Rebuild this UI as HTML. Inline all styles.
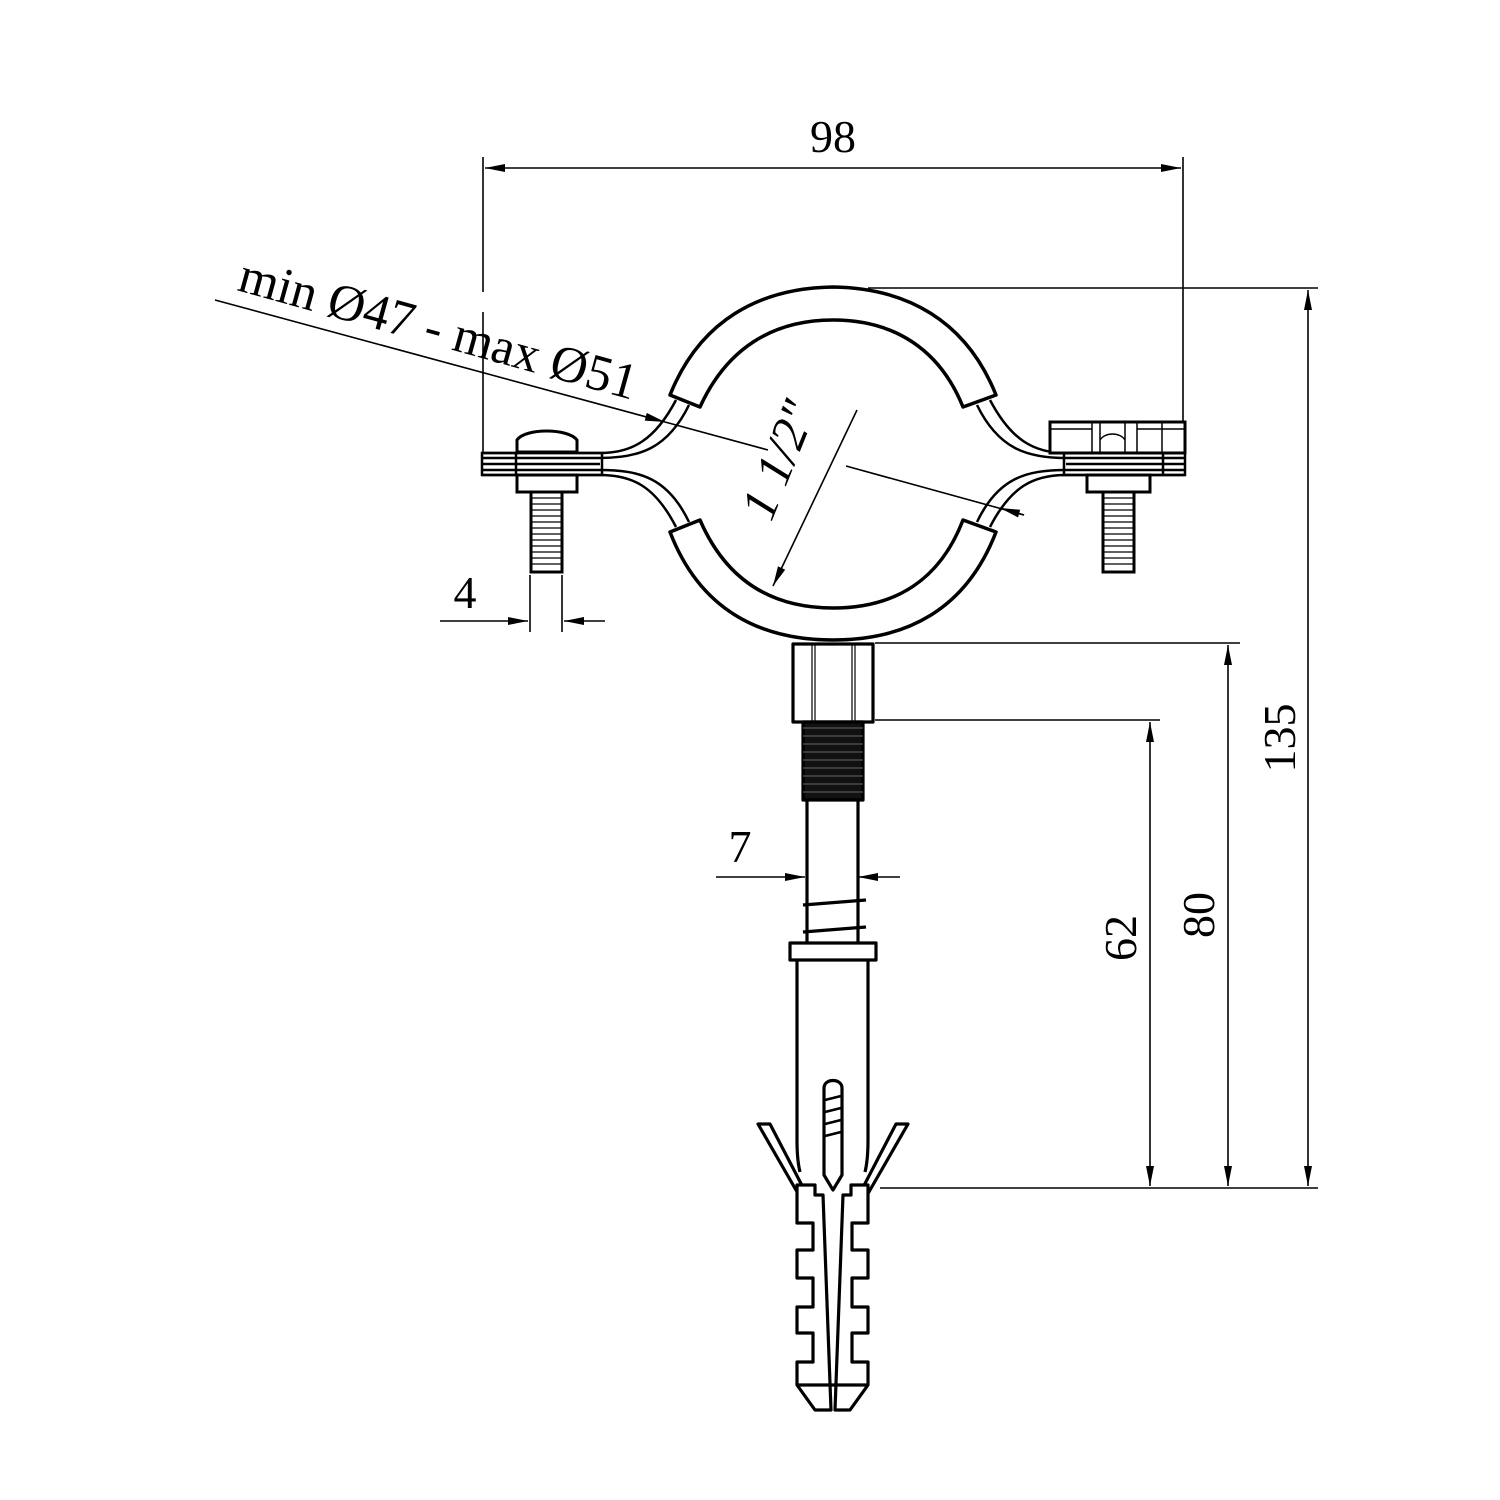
<!DOCTYPE html>
<html><head><meta charset="utf-8"><style>html,body{margin:0;padding:0;background:#fff}svg{display:block}</style></head><body>
<svg width="1500" height="1500" viewBox="0 0 1500 1500" xmlns="http://www.w3.org/2000/svg">
<defs>
<marker id="a" viewBox="0 0 20 8" refX="20" refY="4" markerWidth="20" markerHeight="8" markerUnits="userSpaceOnUse" orient="auto-start-reverse"><path d="M0,0 L20,4 L0,8 Z" fill="#000"/></marker>
</defs>
<g fill="none" stroke="#000" stroke-width="1.6">
<line x1="483" y1="157" x2="483" y2="292"/><line x1="483" y1="312" x2="483" y2="452"/>
<line x1="1183" y1="157" x2="1183" y2="423"/>
<line x1="485" y1="168" x2="1181" y2="168" marker-start="url(#a)" marker-end="url(#a)"/>
<line x1="868" y1="288" x2="1318" y2="288"/>
<line x1="880" y1="1188" x2="1318" y2="1188"/>
<line x1="1308" y1="290" x2="1308" y2="1186" marker-start="url(#a)" marker-end="url(#a)"/>
<line x1="875" y1="643" x2="1240" y2="643"/>
<line x1="1228" y1="645" x2="1228" y2="1186" marker-start="url(#a)" marker-end="url(#a)"/>
<line x1="875" y1="720" x2="1160" y2="720"/>
<line x1="1150" y1="722" x2="1150" y2="1186" marker-start="url(#a)" marker-end="url(#a)"/>
<line x1="530" y1="575" x2="530" y2="632"/><line x1="562" y1="575" x2="562" y2="632"/>
<line x1="440" y1="621" x2="528" y2="621" marker-end="url(#a)"/>
<line x1="605" y1="621" x2="564" y2="621" marker-end="url(#a)"/>
<line x1="716" y1="877" x2="805" y2="877" marker-end="url(#a)"/>
<line x1="900" y1="877" x2="858" y2="877" marker-end="url(#a)"/>
<line x1="215" y1="300" x2="665" y2="422" marker-end="url(#a)"/>
<line x1="665" y1="422" x2="768" y2="450"/>
<line x1="846" y1="466" x2="1024" y2="515"/>
<line x1="1024" y1="515" x2="1000" y2="508" marker-end="url(#a)"/>
<line x1="857" y1="410" x2="773" y2="586" marker-end="url(#a)"/>
</g>
<g font-family="Liberation Serif, serif" font-size="46" fill="#000">
<text x="833" y="152" text-anchor="middle">98</text>
<text x="465" y="608" text-anchor="middle">4</text>
<text x="740" y="862" text-anchor="middle">7</text>
<text transform="translate(1295,738) rotate(-90)" text-anchor="middle">135</text>
<text transform="translate(1214,915) rotate(-90)" text-anchor="middle">80</text>
<text transform="translate(1136,938) rotate(-90)" text-anchor="middle">62</text>
<text transform="translate(236,290) rotate(15.5)" font-size="51">min Ø47 - max Ø51</text>
<text transform="translate(794,466) rotate(-68)" text-anchor="middle" font-size="50" font-style="italic">1 1/2"</text>
</g>
<g fill="none" stroke="#000" stroke-width="3.5" stroke-linejoin="round">
<path d="M670,395 C700,320 760,288 833,287 C906,288 966,320 996,395 L963,407 C940,350 895,320 833,320 C771,320 726,350 700,407 Z" fill="#fff"/>
<path d="M670,532 C700,610 760,640 833,640 C906,640 966,610 996,532 L963,520 C940,580 895,608 833,608 C771,608 726,580 700,520 Z" fill="#fff"/>
</g>
<g fill="none" stroke="#000" stroke-width="2.5">
<path d="M676,400 C655,440 632,453 600,453 L482,453"/>
<path d="M689,405 C668,448 640,458 600,458"/>
<path d="M676,527 C655,486 632,475 600,475 L482,475"/>
<path d="M689,522 C668,478 640,470 600,470"/>
<path d="M990,400 C1011,440 1034,453 1066,453 L1185,453"/>
<path d="M977,405 C998,448 1026,458 1066,458"/>
<path d="M990,527 C1011,486 1034,475 1066,475 L1185,475"/>
<path d="M977,522 C998,478 1026,470 1066,470"/>
<rect x="482" y="453" width="120" height="22"/>
<line x1="482" y1="458" x2="600" y2="458"/><line x1="482" y1="464" x2="600" y2="464"/><line x1="482" y1="470" x2="600" y2="470"/>
<line x1="516" y1="453" x2="516" y2="475"/>
<rect x="1064" y="453" width="121" height="22"/>
<line x1="1066" y1="458" x2="1185" y2="458"/><line x1="1066" y1="464" x2="1185" y2="464"/><line x1="1066" y1="470" x2="1185" y2="470"/>
<line x1="1163" y1="453" x2="1163" y2="475"/>
</g>
<g fill="#fff" stroke="#000" stroke-width="3">
<path d="M517,452 L517,440 C525,428 568,428 577,440 L577,452 Z"/>
<rect x="517" y="475" width="60" height="17"/>
<rect x="531" y="492" width="31" height="80"/>
<rect x="1050" y="422" width="135" height="31"/>
<rect x="1087" y="475" width="63" height="17"/>
<rect x="1103" y="492" width="31" height="80"/>
</g>
<g stroke="#000" stroke-width="1.5">
<line x1="1050" y1="429" x2="1092" y2="429"/><line x1="1092" y1="422" x2="1092" y2="453"/>
<line x1="1100" y1="422" x2="1100" y2="453"/><line x1="1125" y1="422" x2="1125" y2="453"/>
<line x1="1137" y1="422" x2="1137" y2="453"/><line x1="1162" y1="422" x2="1162" y2="453"/>
<line x1="1137" y1="429" x2="1185" y2="429"/>
<path d="M1100,440 C1105,432 1120,432 1125,440" fill="none"/>
</g>
<g stroke="#000" stroke-width="1.2">
<path d="M531,498 H562 M531,504 H562 M531,510 H562 M531,516 H562 M531,522 H562 M531,528 H562 M531,534 H562 M531,540 H562 M531,546 H562 M531,552 H562 M531,558 H562 M531,564 H562"/>
<path d="M1103,498 H1134 M1103,504 H1134 M1103,510 H1134 M1103,516 H1134 M1103,522 H1134 M1103,528 H1134 M1103,534 H1134 M1103,540 H1134 M1103,546 H1134 M1103,552 H1134 M1103,558 H1134 M1103,564 H1134"/>
</g>
<g fill="#fff" stroke="#000" stroke-width="3.2" stroke-linejoin="round">
<rect x="793" y="644" width="80" height="78"/>
<rect x="803" y="722" width="60" height="78" fill="#111"/>
<line x1="807" y1="800" x2="807" y2="943"/><line x1="858" y1="800" x2="858" y2="943"/>
<path d="M803,905 L866,900 M803,932 L866,927" fill="none"/>
<rect x="790" y="943" width="86" height="17"/>
<path d="M797,960 V1140 Q797,1160 800,1172 M868,960 V1140 Q868,1160 865,1172" fill="none"/>
<path d="M758,1124 L770,1124 L808,1197 L800,1197 Z"/>
<path d="M908,1124 L896,1124 L858,1197 L866,1197 Z"/>
<path d="M823,1195 L815,1195 L815,1185 L797,1185 L797,1195 L797,1223 L813,1223 L813,1250 L797,1250 L797,1278 L813,1278 L813,1307 L797,1307 L797,1333 L813,1333 L813,1362 L797,1362 L797,1385 L815,1410 L831,1410 Z"/>
<path d="M843,1195 L851,1195 L851,1185 L868,1185 L868,1223 L852,1223 L852,1250 L868,1250 L868,1278 L852,1278 L852,1307 L868,1307 L868,1333 L852,1333 L852,1362 L868,1362 L868,1385 L850,1410 L835,1410 Z"/>
<line x1="797" y1="1385" x2="868" y2="1385"/>
<path d="M824,1175 V1088 C824,1078 842,1078 842,1088 V1175 L833,1190 Z"/>
</g>
<g stroke="#555" stroke-width="1.2">
<path d="M803,728 H863 M803,736 H863 M803,744 H863 M803,752 H863 M803,760 H863 M803,768 H863 M803,776 H863 M803,784 H863 M803,792 H863"/>
<line x1="812" y1="644" x2="812" y2="722" stroke="#000"/><line x1="815" y1="644" x2="815" y2="722" stroke="#000"/>
<line x1="852" y1="644" x2="852" y2="722" stroke="#000"/><line x1="855" y1="644" x2="855" y2="722" stroke="#000"/>
</g>
<g stroke="#000" stroke-width="2.5">
<path d="M825,1100 L841,1096 M825,1112 L841,1108 M825,1124 L841,1120 M825,1136 L841,1132"/>
</g>
</svg>
</body></html>
